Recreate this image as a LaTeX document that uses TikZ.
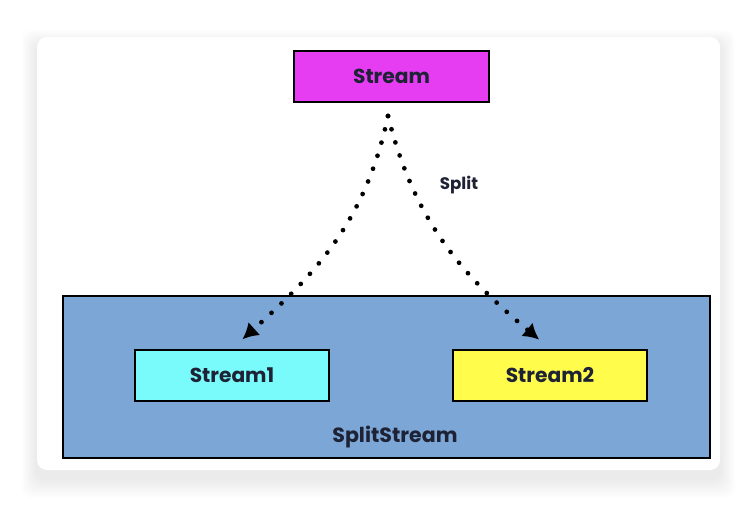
\documentclass[tikz,border=0pt]{standalone}
\usepackage{fontspec}
\setmainfont{Poppins}
\usepackage{xcolor}
\usetikzlibrary{arrows.meta}

\definecolor{streamcol}{HTML}{E63CF2}
\definecolor{splitcol}{HTML}{7BA6D6}
\definecolor{onecol}{HTML}{7AFBFB}
\definecolor{twocol}{HTML}{FFFC4C}
\definecolor{inkcol}{HTML}{1E2235}

\tikzset{
  box/.style={draw=black, line width=1.5pt, inner sep=0pt, minimum width=3.9cm,
    minimum height=1.02cm, font=\fontsize{11.5}{13}\selectfont\bfseries, text=inkcol},
  splitarrow/.style={line width=2.7pt, line cap=round, dash pattern=on 0pt off 7.8pt,
    -{Latex[length=9pt,width=10pt]}, shorten >=0.28cm}
}

\begin{document}
\begin{tikzpicture}[x=0.02cm, y=-0.02cm]

\useasboundingbox (0,0) rectangle (756,508);
\fill[white] (0,0) rectangle (756,508);

\foreach \i in {1,...,10}
  \fill[black, opacity=0.008, rounded corners=0.2cm] (37-1.5*\i,37-1.5*\i+8) rectangle (720+1.5*\i,470+2*\i+8);
\fill[white, rounded corners=0.2cm] (37,37) rectangle (720,470);

\node[box, fill=splitcol, minimum width=12.94cm, minimum height=3.24cm] (split) at (386.5,377) {};
\node[box, fill=streamcol] (stream) at (391.5,76.5) {Stream};
\node[box, fill=onecol, minimum width=3.88cm] (stream1) at (232,375.5) {Stream1};
\node[box, fill=twocol, minimum width=3.88cm] (stream2) at (550,375.5) {Stream2};

\node[font=\fontsize{11.7}{13}\selectfont\bfseries, text=inkcol] (splitname) at (395,437) {SplitStream};
\node[font=\fontsize{9.5}{11}\selectfont\bfseries, text=inkcol] (splitlabel) at (459,185) {Split};

\coordinate (fork) at (388,116);
\draw[splitarrow] (fork) to[out=-102, in=42] (stream1.north);
\draw[splitarrow] (fork) to[out=-76, in=140] (stream2.north);

\end{tikzpicture}
\end{document}
